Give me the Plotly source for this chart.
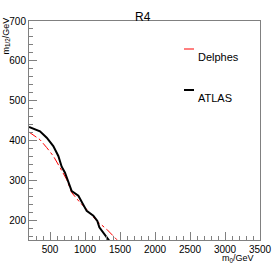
import plotly.graph_objects as go

atlas_x = [200, 357, 453, 547, 619, 667, 714, 762, 810, 905, 953, 1024, 1119, 1176, 1205, 1286, 1347]
atlas_y = [434, 423, 407, 386, 361, 334, 319, 298, 273, 261, 244, 223, 211, 198, 182, 161, 148]
delphes_x = [200, 357, 453, 547, 643, 738, 810, 929, 1024, 1167, 1310, 1429, 1460]
delphes_y = [421, 402, 382, 361, 332, 302, 269, 244, 227, 198, 177, 157, 150]
x_ticks = [500, 1000, 1500, 2000, 2500, 3000, 3500]
y_ticks = [200, 300, 400, 500, 600, 700]

font = "Liberation Sans, Arial, sans-serif"
fig = go.Figure()
fig.add_trace(go.Scatter(x=delphes_x, y=delphes_y, mode="lines", name="Delphes",
                         line=dict(color="red", width=1, dash="dashdot"), showlegend=False))
fig.add_trace(go.Scatter(x=atlas_x, y=atlas_y, mode="lines", name="ATLAS",
                         line=dict(color="black", width=2), showlegend=False))

axis_common = dict(showgrid=False, zeroline=False, showline=True, mirror=True,
                   linecolor="#808080", linewidth=1, ticks="inside", ticklen=8,
                   tickcolor="#808080", automargin=False,
                   tickfont=dict(family=font, size=10, color="black"))
fig.update_xaxes(range=[200, 3500], tickvals=x_ticks,
                 minor=dict(dtick=100, ticks="inside", ticklen=4, tickcolor="#808080"),
                 **axis_common)
fig.update_yaxes(range=[150, 700], tickvals=y_ticks,
                 minor=dict(dtick=20, ticks="inside", ticklen=4, tickcolor="#808080"),
                 **axis_common)

L, T, R, B = 29, 21, 260, 240
def px2paper_x(px):
    return (px - L) / (R - L)
def px2paper_y(py):
    return (B - py) / (B - T)

annotations = [
    dict(text="R4", x=px2paper_x(143), y=px2paper_y(8), xref="paper", yref="paper",
         showarrow=False, font=dict(family=font, size=12, color="black")),
    dict(text="m<sub>0</sub>/GeV", x=px2paper_x(256), y=px2paper_y(251), xref="paper", yref="paper",
         xanchor="right", yanchor="top", showarrow=False,
         font=dict(family=font, size=9, color="black")),
    dict(text="m<sub>1/2</sub>/GeV", x=px2paper_x(6), y=px2paper_y(16), xref="paper", yref="paper",
         xanchor="center", yanchor="top", textangle=-90, showarrow=False,
         font=dict(family=font, size=9, color="black")),
    dict(text="Delphes", x=px2paper_x(196), y=px2paper_y(49), xref="paper", yref="paper",
         xanchor="left", showarrow=False, font=dict(family=font, size=11, color="black")),
    dict(text="ATLAS", x=px2paper_x(196), y=px2paper_y(90), xref="paper", yref="paper",
         xanchor="left", showarrow=False, font=dict(family=font, size=11, color="black")),
]
shapes = [
    dict(type="line", xref="paper", yref="paper", x0=px2paper_x(184), x1=px2paper_x(194),
         y0=px2paper_y(49), y1=px2paper_y(49), line=dict(color="red", width=1)),
    dict(type="line", xref="paper", yref="paper", x0=px2paper_x(184), x1=px2paper_x(194),
         y0=px2paper_y(90), y1=px2paper_y(90), line=dict(color="black", width=2)),
]
fig.update_layout(width=279, height=269, autosize=False,
                  margin=dict(l=L, r=279 - R, t=T, b=269 - B, pad=0, autoexpand=False),
                  paper_bgcolor="white", plot_bgcolor="white",
                  annotations=annotations, shapes=shapes, showlegend=False)
fig.write_html("out.html", config={"displayModeBar": False},
               post_script="document.body.style.margin='0';document.body.style.overflow='hidden';")
